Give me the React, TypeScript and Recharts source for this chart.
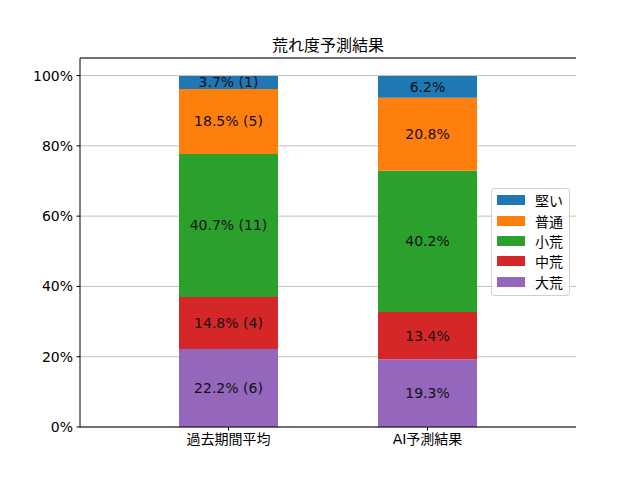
import { BarChart, Bar, XAxis, YAxis, CartesianGrid, LabelList, ReferenceLine } from "recharts";

const categories = ["過去期間平均", "AI予測結果"];
const seriesNames = ["大荒", "中荒", "小荒", "普通", "堅い"];
const seriesColors = ["#9467bd", "#d62728", "#2ca02c", "#ff7f0e", "#1f77b4"];
const pastPct = [22.2, 14.8, 40.7, 18.5, 3.7];
const pastCounts = [6, 4, 11, 5, 1];
const aiPct = [19.3, 13.4, 40.2, 20.8, 6.2];
const yTicks = [0, 20, 40, 60, 80, 100];
const yMax = 105;

const FONT = "'DejaVu Sans', 'Noto Sans CJK JP', sans-serif";

const buildRow = (name: string, pct: number[], counts?: number[]) => {
  const row: Record<string, string | number> = { name };
  seriesNames.forEach((s, i) => {
    row[s] = pct[i];
    row[s + "_label"] = counts ? `${pct[i].toFixed(1)}% (${counts[i]})` : `${pct[i].toFixed(1)}%`;
  });
  return row;
};

const data = [buildRow(categories[0], pastPct, pastCounts), buildRow(categories[1], aiPct)];

const Legend = () => (
  <div
    style={{
      position: "absolute",
      left: 491,
      top: 188,
      width: 79,
      height: 108,
      boxSizing: "border-box",
      border: "1px solid #d0d0d0",
      borderRadius: 3,
      background: "rgba(255,255,255,0.8)",
      paddingTop: 1,
      fontFamily: FONT,
      fontSize: 14,
      color: "#000",
    }}
  >
    {[...seriesNames].reverse().map((s) => {
      const color = seriesColors[seriesNames.indexOf(s)];
      return (
        <div key={s} style={{ display: "flex", alignItems: "center", height: 20.4 }}>
          <span style={{ display: "inline-block", width: 28, height: 10, marginLeft: 5, background: color }} />
          <span style={{ marginLeft: 10 }}>{s}</span>
        </div>
      );
    })}
  </div>
);

export default function App() {
  return (
    <div style={{ position: "absolute", left: 0, top: 0, width: 640, height: 480, background: "#fff" }}>
      <div
        style={{
          position: "absolute",
          left: 80,
          width: 496,
          top: 34,
          textAlign: "center",
          fontFamily: "'Noto Sans CJK JP', sans-serif",
          fontSize: 16,
          lineHeight: "20px",
          color: "#000",
        }}
      >
        荒れ度予測結果
      </div>
      <BarChart
        width={640}
        height={480}
        data={data}
        margin={{ top: 58, right: 64, bottom: 23, left: 20 }}
        barCategoryGap={0}
      >
        <CartesianGrid vertical={false} stroke="#b0b0b0" strokeWidth={0.8} />
        <XAxis
          dataKey="name"
          padding={{ left: 49, right: 49 }}
          height={30}
          tickSize={3.5}
          tickMargin={3.5}
          axisLine={{ stroke: "#000", strokeWidth: 1 }}
          tickLine={{ stroke: "#000" }}
          tick={{ fill: "#000", fontSize: 14, fontFamily: FONT }}
        />
        <YAxis
          domain={[0, yMax]}
          ticks={yTicks}
          width={60}
          tickSize={3.5}
          tickMargin={3.5}
          tickFormatter={(v) => `${v}%`}
          axisLine={{ stroke: "#000", strokeWidth: 1 }}
          tickLine={{ stroke: "#000" }}
          tick={{ fill: "#000", fontSize: 14, fontFamily: FONT }}
          allowDataOverflow
        />
        <YAxis
          yAxisId="right"
          orientation="right"
          width={0}
          domain={[0, yMax]}
          tick={false}
          tickLine={false}
          axisLine={{ stroke: "#000" }}
        />
        {seriesNames.map((s, i) => (
          <Bar key={s} dataKey={s} stackId="a" fill={seriesColors[i]} barSize={99} isAnimationActive={false}>
            <LabelList dataKey={s + "_label"} position="center" fill="#111" fontSize={14} fontFamily={FONT} />
          </Bar>
        ))}
        <ReferenceLine y={yMax} stroke="#000" strokeWidth={1} />
      </BarChart>
      <Legend />
    </div>
  );
}
